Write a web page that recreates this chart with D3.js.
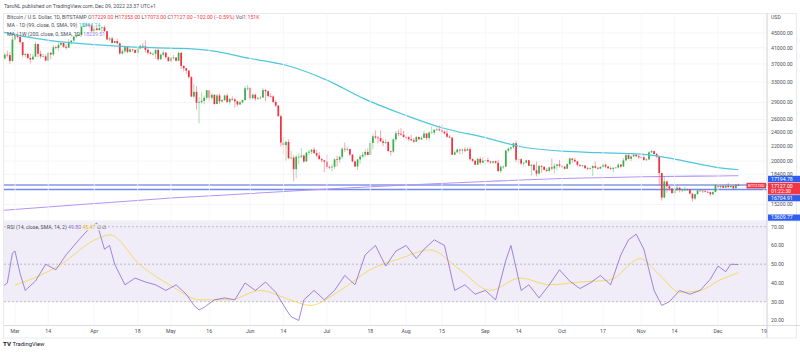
<!DOCTYPE html>
<html><head><meta charset="utf-8">
<script src="https://cdn.jsdelivr.net/npm/d3@7/dist/d3.min.js"></script>
<style>
html,body{margin:0;padding:0;background:#fff;overflow:hidden;}
svg{display:block;font-family:Roboto,"Noto Sans",sans-serif;}
</style></head><body>
<svg id="chart" width="800" height="353"></svg>
<script>
// ---------------- DATA ----------------
const startDate = "2022-02-24";
const firstOpen = 37250;
const lastOpen = 17229;
const closes = [
38330,39230,39120,37710,43190,
44420,43920,42450,39150,39400,38420,38060,38740,41980,39440,38790,38820,37800,39670,39280,41120,40920,41770,42250,41260,41000,42370,42900,43960,44350,44500,46820,47130,47450,47080,45530,
46300,45850,46450,46620,45520,43200,43460,42250,42760,42160,39530,40080,41150,39940,40550,40400,39700,40800,41500,41370,40480,39720,39450,39450,40430,38120,39240,39740,38600,37650,
38470,38530,37750,39690,36550,36010,35470,34050,30100,31020,28940,29050,29280,29860,31310,29860,30420,28700,30300,29190,29430,30300,29100,29650,29540,29200,28620,29020,29450,31720,31790,
29800,30450,29700,29860,29900,31370,31130,30200,30110,29080,28420,26570,22490,22130,22580,20380,20450,19010,20560,20570,20720,19960,21100,21230,21500,21030,20730,20250,20100,19930,
19290,19240,19300,20230,20180,20550,21630,21590,21600,20850,19960,19330,20220,20590,20830,21200,20790,22430,23400,23230,23150,22680,22450,22580,21300,21250,22950,23850,23780,23640,23300,
23270,22980,22820,22620,23310,22960,23170,23810,23150,23950,23950,24400,24440,24300,24100,23850,23340,23210,20830,21140,21520,21400,21530,21370,21570,20250,20040,19550,20280,19800,20050,
20130,19950,19830,19990,19800,18790,19290,19320,21370,21650,21830,22400,20180,20240,19700,19800,20110,19420,19540,18880,18480,19410,19300,18930,18800,19230,19080,19410,19590,19420,
19310,19060,19630,20340,20160,19960,19530,19420,19450,19130,19060,19150,19380,19180,19070,19270,19550,19330,19120,19040,19170,19200,19570,19330,20090,20770,20290,20600,20810,20630,20490,
20480,20160,20210,21150,21300,20910,20600,18540,15880,17590,17070,16810,16330,16620,16900,16660,16690,16700,16700,16280,15780,16230,16600,16600,16520,16460,16430,16220,16440,17170,
16970,17090,16890,17120,16970,17090,16840,17230,17127];
const highs = [
39000,39720,40300,39860,44230,
44950,45400,44100,42500,39630,39650,39500,39400,42600,42000,40240,39450,39300,39880,39900,41700,41460,42330,42400,42300,42000,43350,42950,44200,45100,44800,46920,48190,48100,47700,47600,
46700,47200,47450,46900,47180,45520,43900,43950,42800,43420,42400,40700,41550,41470,40850,40700,40600,41100,41750,42200,42980,40800,39980,39930,40600,40800,39460,40380,39930,38800,
38650,39170,38650,40000,39840,36650,36120,35500,34250,32650,32200,30000,30960,30300,31380,31300,30800,30600,30550,30700,29600,30450,30650,29830,30180,29850,29380,29220,29520,32200,32400,
31980,30680,30660,29950,30200,31760,31570,31330,30680,30350,29450,28550,26900,23300,22780,22960,21330,20760,20800,21000,21700,20860,21190,21500,21580,21850,21520,21180,20410,20140,
20850,19420,19620,20360,20700,20660,21830,22500,21940,21600,20850,20050,20250,20880,21200,21550,21680,22750,23780,24280,23440,24280,22980,23000,22660,21350,23100,24200,24430,24650,24200,
23480,23450,23640,23200,23450,23350,23380,24230,23900,24180,24920,24450,24880,25050,25200,24250,24430,23600,23230,21380,21680,21520,21650,21850,21800,21860,20360,20150,20400,20560,20480,
20190,20450,20040,20000,20040,20180,19470,19450,21480,21800,21850,22480,22770,20550,20350,19900,20180,20120,19650,19620,19950,19480,19470,19300,19150,19320,20350,19730,19650,20150,
19480,19390,19700,20460,20360,20440,20050,19610,19530,19520,19260,19220,19510,19950,19230,19400,19680,19700,19350,19340,19250,19260,19700,19610,20400,21000,20870,20750,21080,20920,20830,
20700,20790,20380,21300,21480,21370,21050,20670,18600,18150,17650,17070,16900,17170,17130,16970,16750,17000,16830,16750,16300,16270,16700,16800,16610,16700,16600,16480,16530,17250,
17320,17110,17150,17200,17430,17120,17150,17300,17353];
const lows = [
34320,38030,38600,37030,37450,
42830,43400,41850,38600,38600,38100,37160,37880,38660,38550,38240,38700,37600,37600,38100,38900,40550,40150,41500,40950,40500,40900,41800,42580,43620,44070,44400,46680,46950,46550,45200,
44250,45650,45550,45150,45400,43100,42750,42130,42120,41880,39200,39250,39550,39570,39770,39980,39560,38550,40570,40850,39770,39200,39300,38980,38200,37700,37870,38870,38200,37600,
37400,38050,37520,37660,35830,35300,34780,33720,30030,29760,27750,25400,28780,28650,29500,29150,29480,28630,28700,28730,28950,29250,28870,28600,29320,28050,28280,28570,28820,29300,31200,
29350,29580,29280,29480,29500,29900,29230,29860,29930,28870,28150,26560,21950,20850,20080,20230,20250,17600,17950,19650,20350,19780,19900,20780,20920,20990,20520,20200,19850,18630,
19000,18970,18780,19050,19320,19800,20240,21200,21340,20650,19880,19260,18920,19670,20400,20500,20770,20770,21600,23000,22350,22550,21980,22280,21260,20710,21050,22600,23450,23550,23200,
22850,22680,22700,22430,22600,22920,22840,23150,22870,22700,23900,23600,24300,24150,23800,23700,23200,23100,20800,20780,21100,20900,20900,21170,21320,20100,19850,19530,19550,19550,19800,
19650,19760,19650,19600,19640,18650,18560,19020,19300,21100,21350,21580,19900,19650,19500,19330,19720,19380,18270,18770,18150,18370,18550,18830,18650,18690,18850,18500,18850,19200,
19170,18950,19000,19500,19750,19880,19330,19280,19330,19030,18880,18980,18200,19080,18980,19060,19170,19100,19050,18900,18650,19130,19080,19150,19250,20050,20220,20000,20550,20510,20240,
20340,20050,20050,20180,21080,20900,20400,17170,15580,15800,16370,16570,16280,15820,16550,16400,16420,16560,16570,16200,15480,15630,16170,16500,16350,16420,16400,16000,16100,16430,
16880,16800,16870,16880,16880,16920,16700,16740,17073];

const ma99Dates = ["2022-02-24","2022-03-05","2022-03-15","2022-04-01","2022-04-15","2022-05-01","2022-05-15","2022-06-01","2022-06-15","2022-07-01","2022-07-15","2022-08-01","2022-08-15","2022-09-01","2022-09-15","2022-10-01","2022-10-15","2022-11-01","2022-11-15","2022-12-01","2022-12-09"];
const ma99Vals  = [45300,44000,42900,41800,41200,40900,40400,38300,36700,33400,29800,26700,24700,23200,21900,21300,21100,20900,20200,19200,18940];

const ma200Dates = ["2022-02-24","2022-04-01","2022-05-01","2022-06-01","2022-07-01","2022-08-01","2022-09-01","2022-10-01","2022-11-01","2022-12-01","2022-12-09"];
const ma200Vals  = [14640,15290,15830,16290,16770,17195,17580,17920,18110,18210,18230];

// RSI (day index from startDate) and its moving average
const rsiIdx  = [0,2,4,5,7,9,13,17,21,25,30,34,37,40,42,44,48,52,56,60,64,68,72,75,77,79,83,87,91,95,99,103,107,111,113,116,118,122,126,130,134,138,142,146,150,154,158,162,165,169,173,177,181,185,189,193,197,199,203,206,210,214,218,222,226,230,234,238,242,245,248,251,255,258,261,265,269,273,277,280,283,285,288];
const rsiVals = [38,40,56,57,45,36,41,50,47,55,63,69,72,58,60,50,39,42.6,40.5,39,36,39,34,28,25.6,27,31,32,31,40,36,40.5,35,26,22,20,31,36,31,36,44,39,55,60,49,57,60,53,58,63,60,36,39,34,36,31,52,60,36,39,32,39,47,41,37,40,44,39,55,63,66,58,36,28,30,36,34,36,42,49,46,50,49.8];
const rsiMaIdx  = [5,14.8,22.6,36.3,42.2,53.9,65.6,77.4,89.1,100.9,112.6,120.4,132.2,143.9,155.6,167.4,179.1,190.8,202.6,214.3,226,237.8,249.5,257.3,265.2,273,280.8,288];
const rsiMaVals = [38.9,44,49.6,63,65.6,49.6,38.9,31,31,36,31,28,36,47,53,57.6,47,36,42.6,39,40.5,41.6,53,44,35,36,41.6,45.47];

const priceTicks = [45000,41000,37000,33000,29000,26000,24000,22000,20000,18400,15200];
const rsiTicks = [70,60,50,40,30,20];
const timeTickDates  = ["2022-03-01","2022-03-14","2022-04-01","2022-04-18","2022-05-01","2022-05-16","2022-06-01","2022-06-14","2022-07-01","2022-07-18","2022-08-01","2022-08-15","2022-09-01","2022-09-14","2022-10-01","2022-10-17","2022-11-01","2022-11-14","2022-12-01","2022-12-19"];
const timeTickLabels = ["Mar","14","Apr","18","May","16","Jun","14","Jul","18","Aug","15","Sep","14","Oct","17","Nov","14","Dec","19"];
const hLines = [17194.78, 16704.91];
const lastPrice = 17127.00;
const lowMark = 13609.77;

// ---------------- LAYOUT ----------------
const plotL = 4, plotR = 767, mainT = 13.5, mainB = 221, rsiT = 221, rsiB = 325.5, axisB = 338;
const parse = d3.utcParse("%Y-%m-%d");
const start = parse(startDate);
const svg = d3.select("#chart");
const txt = "#4c4f57";
const fs = 5.2;

const x = d3.scaleUtc().domain([parse("2022-03-01"), parse("2022-12-01")]).range([15, 718]);
const y = d3.scaleLog().domain([17194.78, 45000]).range([185, 33]);
const yr = d3.scaleLinear().domain([30, 70]).range([301.7, 226.7]);

const defs = svg.append("defs");
defs.append("clipPath").attr("id","mainClip").append("rect").attr("x",plotL).attr("y",mainT).attr("width",plotR-plotL).attr("height",mainB-mainT);
defs.append("clipPath").attr("id","rsiClip").append("rect").attr("x",plotL).attr("y",rsiT).attr("width",plotR-plotL).attr("height",rsiB-rsiT);

// header
svg.append("text").attr("x",4).attr("y",7.6).attr("font-size",fs).attr("fill",txt)
  .text("TaroNL published on TradingView.com, Dec 09, 2022 23:37 UTC+1");

// frame
svg.append("rect").attr("x",plotL-0.5).attr("y",mainT).attr("width",797-plotL).attr("height",axisB-mainT)
  .attr("fill","none").attr("stroke","#e3e5ea").attr("stroke-width",0.8);

// grid
const gMain = svg.append("g").attr("clip-path","url(#mainClip)");
gMain.selectAll("line.hg").data(priceTicks).enter().append("line")
  .attr("x1",plotL).attr("x2",plotR).attr("y1",d=>y(d)).attr("y2",d=>y(d))
  .attr("stroke","#f1f2f5").attr("stroke-width",0.8);
const timeTicks = timeTickDates.map(parse);
svg.append("g").selectAll("line").data(timeTicks).enter().append("line")
  .attr("x1",d=>x(d)).attr("x2",d=>x(d)).attr("y1",mainT).attr("y2",rsiB)
  .attr("stroke","#f4f5f7").attr("stroke-width",0.8);

// RSI pane background band
const gR = svg.append("g").attr("clip-path","url(#rsiClip)");
gR.append("rect").attr("x",plotL).attr("width",plotR-plotL).attr("y",rsiT+1).attr("height",yr(30)-rsiT-1).attr("fill","#f0ecf8");
gR.selectAll("line.dl").data([70,50,30]).enter().append("line")
  .attr("x1",plotL).attr("x2",plotR).attr("y1",d=>yr(d)).attr("y2",d=>yr(d))
  .attr("stroke","#a9a7b8").attr("stroke-width",0.7).attr("stroke-dasharray","2,2");

// horizontal levels
gMain.append("line").attr("x1",plotL).attr("x2",plotR).attr("y1",y(hLines[0])).attr("y2",y(hLines[0]))
  .attr("stroke","#4a63d6").attr("stroke-width",1);
gMain.append("line").attr("x1",plotL).attr("x2",plotR).attr("y1",y(hLines[1])).attr("y2",y(hLines[1]))
  .attr("stroke","#7189f2").attr("stroke-width",1.4);

// MA lines
const ma99 = ma99Dates.map((d,i)=>({d:parse(d), v:ma99Vals[i]}));
const ma200 = ma200Dates.map((d,i)=>({d:parse(d), v:ma200Vals[i]}));
const lineP = d3.line().x(p=>x(p.d)).y(p=>y(p.v)).curve(d3.curveMonotoneX);
gMain.append("path").attr("d",lineP(ma200)).attr("fill","none").attr("stroke","#b395f5").attr("stroke-width",1.1);

// candles
const bw = 1.7;
const candles = closes.map((c,i)=>({
  d: d3.utcDay.offset(start,i),
  o: i===0 ? firstOpen : (i===closes.length-1 ? lastOpen : closes[i-1]),
  c: c, h: highs[i], l: lows[i]
}));
const upC = "#3aae4a", dnC = "#f0303f";
gMain.selectAll("line.wick").data(candles).enter().append("line")
  .attr("x1",d=>x(d.d)).attr("x2",d=>x(d.d))
  .attr("y1",d=>y(Math.max(d.h,d.o,d.c))).attr("y2",d=>y(Math.min(d.l,d.o,d.c)))
  .attr("stroke",d=>d.c>=d.o?upC:dnC).attr("stroke-width",0.6).attr("stroke-opacity",0.7);
gMain.selectAll("rect.body").data(candles).enter().append("rect")
  .attr("x",d=>x(d.d)-bw/2).attr("width",bw)
  .attr("y",d=>y(Math.max(d.o,d.c)))
  .attr("height",d=>Math.max(0.7, y(Math.min(d.o,d.c))-y(Math.max(d.o,d.c))))
  .attr("fill",d=>d.c>=d.o?upC:dnC);

gMain.append("path").attr("d",lineP(ma99)).attr("fill","none").attr("stroke","#4fc6de").attr("stroke-width",1.2);

// BTCUSD label in plot
svg.append("rect").attr("x",746.5).attr("y",y(lastPrice)-2.8).attr("width",19.5).attr("height",5.6).attr("fill","#f23645");
svg.append("text").attr("x",756.2).attr("y",y(lastPrice)+1.6).attr("text-anchor","middle").attr("font-size",4.4).attr("fill","#fff").text("BTCUSD");

// RSI lines
const rsiPts = rsiIdx.map((d,i)=>({d:d3.utcDay.offset(start,d), v:rsiVals[i]}));
const rsiMaPts = rsiMaIdx.map((d,i)=>({d:new Date(start.getTime()+d*86400000), v:rsiMaVals[i]}));
gR.append("path").attr("d",d3.line().x(p=>x(p.d)).y(p=>yr(p.v)).curve(d3.curveMonotoneX)(rsiMaPts)).attr("fill","none").attr("stroke","#f5d54a").attr("stroke-width",0.8);
gR.append("path").attr("d",d3.line().x(p=>x(p.d)).y(p=>yr(p.v))(rsiPts)).attr("fill","none").attr("stroke","#8a6ad0").attr("stroke-width",0.8);

// pane separator & axes lines
svg.append("line").attr("x1",plotL).attr("x2",800).attr("y1",rsiT).attr("y2",rsiT).attr("stroke","#e0e3eb").attr("stroke-width",0.8);
svg.append("line").attr("x1",plotL).attr("x2",800).attr("y1",rsiB).attr("y2",rsiB).attr("stroke","#d0d3da").attr("stroke-width",0.8);
svg.append("line").attr("x1",plotR).attr("x2",plotR).attr("y1",mainT).attr("y2",axisB).attr("stroke","#c9ccd3").attr("stroke-width",0.9);

// price axis labels
const axX = 771;
svg.append("text").attr("x",axX).attr("y",18.5).attr("font-size",fs).attr("fill",txt).text("USD");
svg.selectAll("text.pt").data(priceTicks).enter().append("text")
  .attr("x",axX).attr("y",d=>y(d)+1.8).attr("font-size",fs).attr("fill",txt).text(d=>d3.format(".2f")(d));
svg.selectAll("text.rt").data(rsiTicks).enter().append("text")
  .attr("x",axX).attr("y",d=>Math.min(yr(d),320.5)+1.8).attr("font-size",fs).attr("fill",txt).text(d=>d3.format(".2f")(d));

// axis price badges
function badge(yc, h, color, lines){
  svg.append("rect").attr("x",plotR+1).attr("y",yc-h/2).attr("width",800-plotR-1).attr("height",h).attr("fill",color);
  lines.forEach((t,i)=>{
    svg.append("text").attr("x",axX).attr("y",yc-h/2+4.9+i*5.6).attr("font-size",fs).attr("fill","#fff").text(t);
  });
}
badge(179, 6.4, "#2f5fef", [d3.format(".2f")(hLines[0])]);
badge(188.6, 11.8, "#f23645", [d3.format(".2f")(lastPrice), "01:22:30"]);
badge(198.2, 6.2, "#2f5fef", [d3.format(".2f")(hLines[1])]);
badge(217.6, 6.2, "#2f5fef", [d3.format(".2f")(lowMark)]);

// time axis labels
svg.selectAll("text.tt").data(timeTicks).enter().append("text")
  .attr("x",d=>x(d)).attr("y",332.5).attr("text-anchor","middle").attr("font-size",fs).attr("fill",txt)
  .text((d,i)=>timeTickLabels[i]);

// legends
const lg1 = svg.append("text").attr("x",7).attr("y",19.2).attr("font-size",fs).attr("fill",txt);
lg1.append("tspan").text("Bitcoin / U.S. Dollar, 1D, BITSTAMP  ");
[["O","17229.00"],["H","17353.00"],["L","17073.00"],["C","17127.00 −102.00 (−0.59%)"],["Vol","1.151K"]].forEach(([a,b])=>{
  lg1.append("tspan").attr("fill",txt).text(a);
  lg1.append("tspan").attr("fill","#f23645").text(b+"  ");
});
const lg2 = svg.append("text").attr("x",7).attr("y",27.4).attr("font-size",fs).attr("fill",txt);
lg2.append("tspan").text("MA - 1D (99, close, 0, SMA, 99)  ");
lg2.append("tspan").attr("fill","#4fc6de").text("18894.74");
const lg3 = svg.append("text").attr("x",7).attr("y",35.6).attr("font-size",fs).attr("fill",txt);
lg3.append("tspan").text("MA - 1W (200, close, 0, SMA, 1D)  ");
lg3.append("tspan").attr("fill","#9f7ef0").text("18229.51");

svg.append("rect").attr("x",6).attr("y",224.2).attr("width",96).attr("height",6).attr("fill","#f0ecf8");
const lg4 = svg.append("text").attr("x",7).attr("y",229.2).attr("font-size",fs).attr("fill",txt);
lg4.append("tspan").text("RSI (14, close, SMA, 14, 2)  ");
lg4.append("tspan").attr("fill","#8a6ad0").text("49.80  ");
lg4.append("tspan").attr("fill","#e0b800").text("45.47  ");
lg4.append("tspan").attr("fill",txt).text("∅  ∅");

// TradingView logo
svg.append("text").attr("x",3).attr("y",346).attr("font-size",6.2).attr("font-weight","bold").attr("fill","#131722").text("TV");
svg.append("text").attr("x",12.5).attr("y",346).attr("font-size",5.8).attr("fill","#131722").text("TradingView");
</script></body></html>
